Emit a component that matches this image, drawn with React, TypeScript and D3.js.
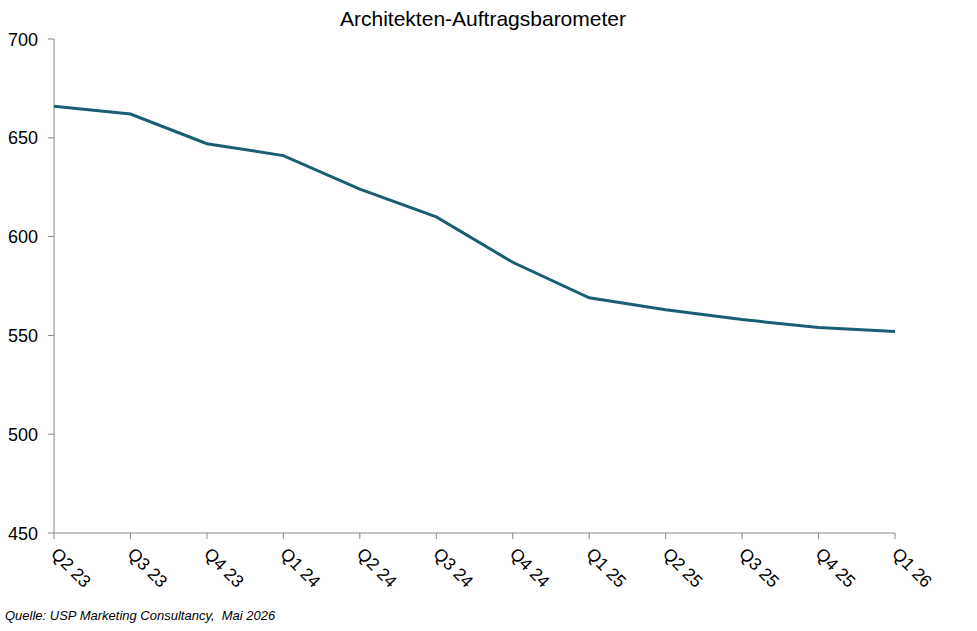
import React, { useEffect, useRef } from 'react';
import * as d3 from 'd3';

const quarters = ['Q2 23', 'Q3 23', 'Q4 23', 'Q1 24', 'Q2 24', 'Q3 24', 'Q4 24', 'Q1 25', 'Q2 25', 'Q3 25', 'Q4 25', 'Q1 26'];
const values = [666, 662, 647, 641, 624, 610, 587, 569, 563, 558, 554, 552];
const yTicks = [450, 500, 550, 600, 650, 700];

const title = 'Architekten-Auftragsbarometer';
const source = 'Quelle: USP Marketing Consultancy,  Mai 2026';

export default function App() {
  const ref = useRef<SVGSVGElement>(null);

  useEffect(() => {
    if (!ref.current) return;
    const svg = d3.select(ref.current);
    svg.selectAll('*').remove();

    const left = 54, right = 895, top = 39, bottom = 533;
    const font = 'Liberation Sans, Arial, sans-serif';
    const axisColor = '#868686';

    const x = d3.scalePoint<string>().domain(quarters).range([left, right]);
    const y = d3.scaleLinear().domain([450, 700]).range([bottom, top]);

    svg.append('text')
      .attr('x', 483).attr('y', 26)
      .attr('text-anchor', 'middle')
      .attr('font-family', font).attr('font-size', 21)
      .text(title);

    // y axis
    svg.append('line')
      .attr('x1', left).attr('x2', left).attr('y1', top).attr('y2', bottom)
      .attr('stroke', axisColor).attr('stroke-width', 1);
    yTicks.forEach(t => {
      svg.append('line')
        .attr('x1', left - 6).attr('x2', left).attr('y1', y(t)).attr('y2', y(t))
        .attr('stroke', axisColor);
      svg.append('text')
        .attr('x', 38).attr('y', y(t) + 6.5)
        .attr('text-anchor', 'end')
        .attr('font-family', font).attr('font-size', 18)
        .text(t);
    });

    // x axis
    svg.append('line')
      .attr('x1', left).attr('x2', right).attr('y1', bottom).attr('y2', bottom)
      .attr('stroke', axisColor);
    quarters.forEach(q => {
      const px = x(q)!;
      svg.append('line')
        .attr('x1', px).attr('x2', px).attr('y1', bottom).attr('y2', bottom + 6)
        .attr('stroke', axisColor);
      svg.append('text')
        .attr('transform', `translate(${px - 4},${bottom + 22}) rotate(45)`)
        .attr('text-anchor', 'start')
        .attr('font-family', font).attr('font-size', 17.5)
        .text(q);
    });

    const line = d3.line<number>()
      .x((_, i) => x(quarters[i])!)
      .y(d => y(d));

    svg.append('path')
      .datum(values)
      .attr('fill', 'none')
      .attr('stroke', '#1b5e74')
      .attr('stroke-width', 3)
      .attr('d', line);

    svg.append('text')
      .attr('x', 5).attr('y', 620)
      .attr('font-family', font).attr('font-size', 13)
      .attr('font-style', 'italic')
      .style('white-space', 'pre')
      .text(source);
  }, []);

  return (
    <svg ref={ref} width={977} height={631}
      style={{ position: 'absolute', left: 0, top: 0, background: '#fff' }} />
  );
}
